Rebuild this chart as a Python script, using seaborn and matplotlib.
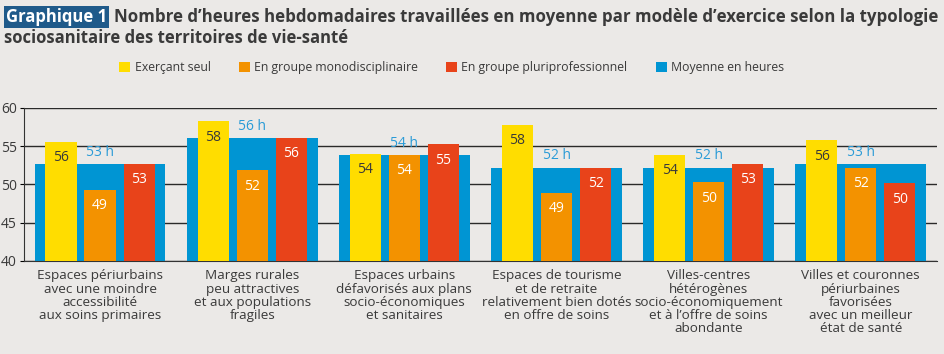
import numpy as np
import pandas as pd
import seaborn as sns
import matplotlib.pyplot as plt
from matplotlib.patches import Patch

# --- donnees ---
territoires = [
    "Espaces périurbains\navec une moindre\naccessibilité\naux soins primaires",
    "Marges rurales\npeu attractives\net aux populations\nfragiles",
    "Espaces urbains\ndéfavorisés aux plans\nsocio-économiques\net sanitaires",
    "Espaces de tourisme\net de retraite\nrelativement bien dotés\nen offre de soins",
    "Villes-centres\nhétérogènes\nsocio-économiquement\net à l’offre de soins\nabondante",
    "Villes et couronnes\npériurbaines\nfavorisées\navec un meilleur\nétat de santé",
]
modeles = ["Exerçant seul", "En groupe monodisciplinaire", "En groupe pluriprofessionnel"]
seul = [55.6, 58.3, 54.0, 57.8, 53.9, 55.8]
mono = [49.3, 51.9, 53.9, 48.9, 50.3, 52.2]
pluri = [52.7, 56.1, 55.3, 52.2, 52.7, 50.2]
moyenne = [52.7, 56.1, 53.8, 52.2, 52.2, 52.7]
moyenne_lbl = ["53 h", "56 h", "54 h", "52 h", "52 h", "53 h"]

couleurs = ["#FFDD00", "#F39200", "#E8431A"]
bleu = "#0095D3"
fond = "#EBE9E7"
gris_txt = "#3A3A3A"

df = pd.DataFrame({
    "territoire": territoires * 3,
    "modele": np.repeat(modeles, len(territoires)),
    "heures": seul + mono + pluri,
})
df_moy = pd.DataFrame({"territoire": territoires, "heures": moyenne})

plt.rcParams['font.family'] = ['Open Sans', 'DejaVu Sans']
fig = plt.figure(figsize=(9.45, 3.54), dpi=100, facecolor=fond)
ax = fig.add_axes([0.0254, 0.263, 0.966, 0.432])
ax.set_facecolor(fond)

# barre de fond = moyenne
sns.barplot(data=df_moy, x="territoire", y="heures", color=bleu, width=0.86,
            saturation=1, ax=ax, zorder=2)
sns.barplot(data=df, x="territoire", y="heures", hue="modele", palette=couleurs,
            width=0.77, gap=0.2, saturation=1, ax=ax, zorder=3, legend=False)

ax.set_ylim(40, 60)
ax.set_xlim(-0.5, 5.5)
ax.set_yticks([40, 45, 50, 55, 60])
ax.yaxis.grid(True, color="#2a2a2a", linewidth=1.0, zorder=0)
ax.set_axisbelow(True)
for s in ["top", "right"]:
    ax.spines[s].set_visible(False)
ax.spines["left"].set_color("#333333")
ax.spines["bottom"].set_color("#333333")
ax.tick_params(axis="y", length=3, labelsize=10, labelcolor=gris_txt, pad=2)
ax.tick_params(axis="x", length=0, labelsize=9.7, labelcolor=gris_txt, pad=6)
ax.set_xlabel("")
ax.set_ylabel("")
for t in ax.get_xticklabels():
    t.set_linespacing(1.03)

# etiquettes
conts = ax.containers
ax.bar_label(conts[0], labels=moyenne_lbl, padding=3, color="#2A9BD7", fontsize=10)
vals = [seul, mono, pluri]
for k, c in enumerate(conts[1:4]):
    coul = gris_txt if k == 0 else "white"
    ax.bar_label(c, labels=[f"{round(v)}" for v in vals[k]], padding=-17,
                 color=coul, fontsize=10)

# legende
handles = [Patch(facecolor=c, label=m) for c, m in zip(couleurs, modeles)]
handles.append(Patch(facecolor=bleu, label="Moyenne en heures"))
fig.legend(handles=handles, loc="center", bbox_to_anchor=(0.478, 0.808), ncol=4,
           frameon=False, fontsize=8.8, handlelength=0.9, handleheight=0.9,
           handletextpad=0.35, columnspacing=2.3, labelcolor=gris_txt)

# titre
fig.text(0.006, 0.953, "Graphique 1", fontsize=12, fontweight="bold", color="white",
         va="center", ha="left",
         bbox=dict(boxstyle="square,pad=0.12", facecolor="#1F5A8A", edgecolor="none"))
fig.text(0.121, 0.953, "Nombre d’heures hebdomadaires travaillées en moyenne par modèle d’exercice selon la typologie",
         fontsize=12.2, fontweight="bold", color=gris_txt, va="center", ha="left")
fig.text(0.004, 0.893, "sociosanitaire des territoires de vie-santé",
         fontsize=12, fontweight="bold", color=gris_txt, va="center", ha="left")

fig.savefig("out.png", dpi=100, facecolor=fond)
